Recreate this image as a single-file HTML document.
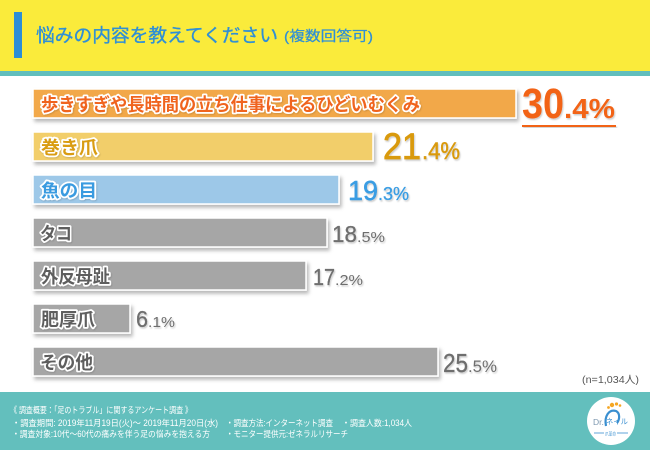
<!DOCTYPE html>
<html><head><meta charset="utf-8">
<style>
html,body{margin:0;padding:0;background:#fff;}
svg{display:block;}
.jp{font-family:"Liberation Sans","Noto Sans CJK JP",sans-serif;}
.num{font-family:"Liberation Sans","DejaVu Sans",sans-serif;}
</style></head>
<body>
<svg width="650" height="450" viewBox="0 0 650 450" xmlns="http://www.w3.org/2000/svg">
<defs>
<filter id="sh" x="-5%" y="-20%" width="115%" height="160%">
<feDropShadow dx="2" dy="3" stdDeviation="1.8" flood-color="#000" flood-opacity="0.28"/>
</filter>
<filter id="tsh" x="-10%" y="-20%" width="130%" height="150%">
<feDropShadow dx="1" dy="1.5" stdDeviation="0.8" flood-color="#000" flood-opacity="0.2"/>
</filter>
<filter id="lsh" x="-10%" y="-20%" width="130%" height="150%">
<feDropShadow dx="0.8" dy="1" stdDeviation="0.8" flood-color="#000" flood-opacity="0.15"/>
</filter>
</defs>
<rect x="0" y="0" width="650" height="450" fill="#fff"/>
<!-- header -->
<rect x="0" y="0" width="650" height="71" fill="#FAEB3B"/>
<rect x="0" y="71" width="650" height="5" fill="#62BEBD"/>
<rect x="14" y="12" width="8" height="46" fill="#2B8ED6"/>
<text class="jp" x="36" y="42" font-size="18.6" fill="#2F8FD6" stroke="#2F8FD6" stroke-width="0.35" textLength="242" lengthAdjust="spacingAndGlyphs">悩みの内容を教えてください</text>
<text class="jp" x="284" y="41" font-size="14" fill="#2F8FD6" stroke="#2F8FD6" stroke-width="0.25" textLength="89" lengthAdjust="spacingAndGlyphs">(複数回答可)</text>

<!-- bars -->
<g stroke="#fff" stroke-width="1.5" filter="url(#sh)">
<rect x="33" y="89" width="483" height="29" fill="#F2A84A"/>
<rect x="33" y="132" width="340" height="29" fill="#F2CE6B"/>
<rect x="33" y="175" width="306" height="29" fill="#9DC8E8"/>
<rect x="33" y="218" width="294" height="29" fill="#A6A6A6"/>
<rect x="33" y="261" width="273" height="29" fill="#A6A6A6"/>
<rect x="33" y="304" width="97" height="29" fill="#A6A6A6"/>
<rect x="33" y="347" width="405" height="29" fill="#A6A6A6"/>
</g>

<!-- bar labels: white outline layer -->
<g class="jp" font-size="18" font-weight="bold" fill="#fff" stroke="#fff" stroke-width="3.5" stroke-linejoin="round" filter="url(#lsh)">
<text x="41" y="111" textLength="379" lengthAdjust="spacingAndGlyphs">歩きすぎや長時間の立ち仕事によるひどいむくみ</text>
<text x="41" y="154" textLength="57" lengthAdjust="spacingAndGlyphs">巻き爪</text>
<text x="41" y="197" textLength="56" lengthAdjust="spacingAndGlyphs">魚の目</text>
<text x="40" y="240" textLength="32" lengthAdjust="spacingAndGlyphs">タコ</text>
<text x="41" y="283" textLength="69" lengthAdjust="spacingAndGlyphs">外反母趾</text>
<text x="41" y="326" textLength="54" lengthAdjust="spacingAndGlyphs">肥厚爪</text>
<text x="40" y="369" textLength="53" lengthAdjust="spacingAndGlyphs">その他</text>
</g>
<!-- bar labels: fill layer -->
<g class="jp" font-size="18" font-weight="bold">
<text x="41" y="111" fill="#F0641E" textLength="379" lengthAdjust="spacingAndGlyphs">歩きすぎや長時間の立ち仕事によるひどいむくみ</text>
<text x="41" y="154" fill="#D99C12" textLength="57" lengthAdjust="spacingAndGlyphs">巻き爪</text>
<text x="41" y="197" fill="#3A9BE0" textLength="56" lengthAdjust="spacingAndGlyphs">魚の目</text>
<text x="40" y="240" fill="#5E5E5E" textLength="32" lengthAdjust="spacingAndGlyphs">タコ</text>
<text x="41" y="283" fill="#5E5E5E" textLength="69" lengthAdjust="spacingAndGlyphs">外反母趾</text>
<text x="41" y="326" fill="#5E5E5E" textLength="54" lengthAdjust="spacingAndGlyphs">肥厚爪</text>
<text x="40" y="369" fill="#5E5E5E" textLength="53" lengthAdjust="spacingAndGlyphs">その他</text>
</g>

<!-- values -->
<g class="num" filter="url(#tsh)">
<text x="522" y="118" font-size="43" font-weight="bold" fill="#F26419" textLength="42" lengthAdjust="spacingAndGlyphs">30</text>
<text x="564" y="118" font-size="28" font-weight="bold" fill="#F26419" textLength="51" lengthAdjust="spacingAndGlyphs">.4%</text>
<text x="383" y="159" font-size="37.5" fill="#D99A0E" stroke="#D99A0E" stroke-width="0.8" textLength="38" lengthAdjust="spacingAndGlyphs">21</text>
<text x="422" y="159" font-size="24" fill="#D99A0E" stroke="#D99A0E" stroke-width="0.5" textLength="38" lengthAdjust="spacingAndGlyphs">.4%</text>
<text x="348" y="200" font-size="28" fill="#3A9DE3" stroke="#3A9DE3" stroke-width="0.5" textLength="30" lengthAdjust="spacingAndGlyphs">19</text>
<text x="378" y="200" font-size="18" fill="#3A9DE3" stroke="#3A9DE3" stroke-width="0.3" textLength="31" lengthAdjust="spacingAndGlyphs">.3%</text>
<text x="332" y="242" font-size="23" fill="#6E6E6E" stroke="#6E6E6E" stroke-width="0.3" textLength="25" lengthAdjust="spacingAndGlyphs">18</text>
<text x="357" y="242" font-size="15" fill="#6E6E6E" textLength="28" lengthAdjust="spacingAndGlyphs">.5%</text>
<text x="313" y="285" font-size="23" fill="#6E6E6E" stroke="#6E6E6E" stroke-width="0.3" textLength="22" lengthAdjust="spacingAndGlyphs">17</text>
<text x="335" y="285" font-size="15" fill="#6E6E6E" textLength="28" lengthAdjust="spacingAndGlyphs">.2%</text>
<text x="136" y="327" font-size="23" fill="#6E6E6E" stroke="#6E6E6E" stroke-width="0.3" textLength="12" lengthAdjust="spacingAndGlyphs">6</text>
<text x="148" y="327" font-size="15" fill="#6E6E6E" textLength="27" lengthAdjust="spacingAndGlyphs">.1%</text>
<text x="443" y="372" font-size="26" fill="#6E6E6E" stroke="#6E6E6E" stroke-width="0.3" textLength="25" lengthAdjust="spacingAndGlyphs">25</text>
<text x="468" y="372" font-size="17" fill="#6E6E6E" textLength="29" lengthAdjust="spacingAndGlyphs">.5%</text>
</g>
<rect x="522" y="125" width="94" height="2" fill="#F26419" filter="url(#tsh)"/>

<text class="jp" x="582" y="383" font-size="10.5" fill="#555" textLength="57" lengthAdjust="spacingAndGlyphs">(n=1,034人)</text>

<!-- footer -->
<rect x="0" y="392" width="650" height="58" fill="#63BFBD"/>
<g class="jp" font-size="8.8" fill="#fff">
<text x="10" y="413" textLength="182" lengthAdjust="spacingAndGlyphs">《 調査概要：「足のトラブル」に関するアンケート調査 》</text>
<text x="12" y="426" textLength="206" lengthAdjust="spacingAndGlyphs">・調査期間: 2019年11月19日(火)〜 2019年11月20日(水)</text>
<text x="226" y="426" textLength="107" lengthAdjust="spacingAndGlyphs">・調査方法:インターネット調査</text>
<text x="342" y="426" textLength="70" lengthAdjust="spacingAndGlyphs">・調査人数:1,034人</text>
<text x="12" y="437" textLength="198" lengthAdjust="spacingAndGlyphs">・調査対象:10代〜60代の痛みを伴う足の悩みを抱える方</text>
<text x="226" y="437" textLength="122" lengthAdjust="spacingAndGlyphs">・モニター提供元:ゼネラルリサーチ</text>
</g>

<!-- logo -->
<circle cx="611" cy="421" r="24" fill="#fff"/>
<circle cx="612" cy="405" r="2.2" fill="#F5A623"/>
<circle cx="616.5" cy="404" r="1.6" fill="#F5A623"/>
<circle cx="620" cy="405.5" r="1.3" fill="#F5A623"/>
<circle cx="608.5" cy="407.5" r="1.4" fill="#F5A623"/>
<path d="M606 426 C604 416 609 409 616 411 C620 413 620 419 617 423" fill="none" stroke="#3A8FD0" stroke-width="2.2"/>
<text class="num" x="593" y="425" font-size="8.5" fill="#7D98B0">Dr.</text>
<text class="jp" x="606" y="424" font-size="7.5" fill="#3A8FD0" textLength="22" lengthAdjust="spacingAndGlyphs">ネイル</text>
<line x1="594" y1="433" x2="604" y2="433" stroke="#3A8FD0" stroke-width="0.8"/>
<line x1="617" y1="433" x2="628" y2="433" stroke="#3A8FD0" stroke-width="0.8"/>
<text class="jp" x="605" y="435.5" font-size="4.5" fill="#3A8FD0" textLength="11" lengthAdjust="spacingAndGlyphs">爪革命</text>
</svg>
</body></html>
